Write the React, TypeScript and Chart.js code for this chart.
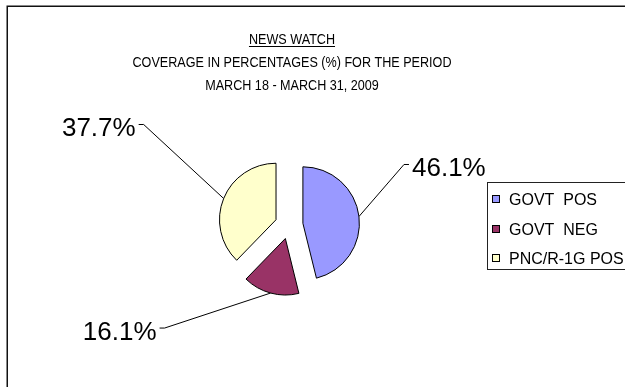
import React, { useEffect, useRef } from 'react';
import { Chart, PieController, ArcElement } from 'chart.js';

Chart.register(PieController, ArcElement);

// ---- data ----
const categories = ['GOVT  POS', 'GOVT  NEG', 'PNC/R-1G POS'];
const shares = [46.1, 16.1, 37.7];
const titleLines = [
  'NEWS WATCH',
  'COVERAGE IN PERCENTAGES (%) FOR THE PERIOD',
  'MARCH 18 - MARCH 31, 2009',
];

// ---- styling ----
const sliceColors = ['#9999FF', '#993366', '#FFFFCC'];
const labelElbowOffsets = [
  [45, -52],
  [-106, 35],
  [-80, -74],
];
const EXPLODE = 14;
const FONT = '"Liberation Sans", Arial, sans-serif';

const decorPlugin = {
  id: 'decor',
  beforeDraw(chart: any) {
    const { ctx, width, height } = chart;
    ctx.save();
    ctx.fillStyle = '#ffffff';
    ctx.fillRect(0, 0, width, height);
    ctx.restore();
  },
  beforeDatasetDraw(chart: any, args: any) {
    const ctx = chart.ctx;
    const meta = chart.getDatasetMeta(args.index);
    meta.data.forEach((arc: any) => {
      const mid = (arc.startAngle + arc.endAngle) / 2;
      ctx.save();
      ctx.translate(Math.cos(mid) * EXPLODE, Math.sin(mid) * EXPLODE);
      arc.draw(ctx);
      ctx.restore();
    });
    return false;
  },
  afterDraw(chart: any) {
    const { ctx } = chart;
    const meta = chart.getDatasetMeta(0);
    ctx.save();

    // outer frame
    ctx.strokeStyle = '#111';
    ctx.lineWidth = 1.5;
    ctx.strokeRect(7.25, 6.25, 700, 500);

    // title (slightly condensed)
    ctx.fillStyle = '#000';
    ctx.textAlign = 'center';
    ctx.textBaseline = 'alphabetic';
    ctx.font = `14px ${FONT}`;
    const tx = 292;
    const tys = [44, 67, 90];
    const sx = 0.9;
    titleLines.forEach((t, i) => {
      ctx.save();
      ctx.translate(tx, tys[i]);
      ctx.scale(sx, 1);
      ctx.fillText(t, 0, 0);
      ctx.restore();
    });
    const w0 = ctx.measureText(titleLines[0]).width * sx;
    ctx.strokeStyle = '#000';
    ctx.lineWidth = 1;
    ctx.beginPath();
    ctx.moveTo(tx - w0 / 2, tys[0] + 2.5);
    ctx.lineTo(tx + w0 / 2, tys[0] + 2.5);
    ctx.stroke();

    // data labels with leader lines
    ctx.font = `26px ${FONT}`;
    meta.data.forEach((arc: any, i: number) => {
      const mid = (arc.startAngle + arc.endAngle) / 2;
      const r = arc.outerRadius + EXPLODE;
      const ax = arc.x + Math.cos(mid) * r;
      const ay = arc.y + Math.sin(mid) * r;
      const [ox, oy] = labelElbowOffsets[i];
      const ex = ax + ox;
      const ey = ay + oy;
      const sign = ox > 0 ? 1 : -1;
      ctx.beginPath();
      ctx.moveTo(ax, ay);
      ctx.lineTo(ex, ey);
      ctx.lineTo(ex + 5 * sign, ey);
      ctx.lineWidth = 1;
      ctx.strokeStyle = '#000';
      ctx.stroke();
      ctx.textAlign = sign > 0 ? 'left' : 'right';
      ctx.fillText(`${shares[i].toFixed(1)}%`, ex + 8 * sign, ey + 2.5 + 9.3);
    });

    // legend
    const lx = 487.5;
    const ly = 182.5;
    ctx.lineWidth = 1;
    ctx.strokeStyle = '#222';
    ctx.strokeRect(lx, ly, 200, 87);
    ctx.font = `16px ${FONT}`;
    ctx.textAlign = 'left';
    const rows = [199, 229, 258];
    categories.forEach((c, i) => {
      const y = rows[i];
      ctx.fillStyle = sliceColors[i];
      ctx.fillRect(492.5, y - 3.5, 7, 7);
      ctx.strokeStyle = '#000';
      ctx.strokeRect(492.5, y - 3.5, 7, 7);
      ctx.fillStyle = '#000';
      ctx.fillText(c, 509, y + 5.7);
    });

    ctx.restore();
  },
};

export default function App() {
  const ref = useRef<HTMLCanvasElement | null>(null);
  useEffect(() => {
    if (!ref.current) return;
    const chart = new Chart(ref.current, {
      type: 'pie',
      data: {
        labels: categories,
        datasets: [
          {
            data: shares,
            backgroundColor: sliceColors,
            borderColor: '#000',
            borderWidth: 1,
            borderJoinStyle: 'miter',
          } as any,
        ],
      },
      options: {
        responsive: false,
        animation: false,
        devicePixelRatio: 1,
        layout: { padding: { left: 232, right: 279, top: 168, bottom: 105 } },
        plugins: { legend: { display: false }, tooltip: { enabled: false }, title: { display: false } },
        events: [],
      } as any,
      plugins: [decorPlugin],
    });
    return () => chart.destroy();
  }, []);
  return (
    <div style={{ position: 'absolute', left: 0, top: 0, width: 625, height: 387, background: '#fff' }}>
      <canvas ref={ref} width={625} height={387} style={{ display: 'block' }} />
    </div>
  );
}
